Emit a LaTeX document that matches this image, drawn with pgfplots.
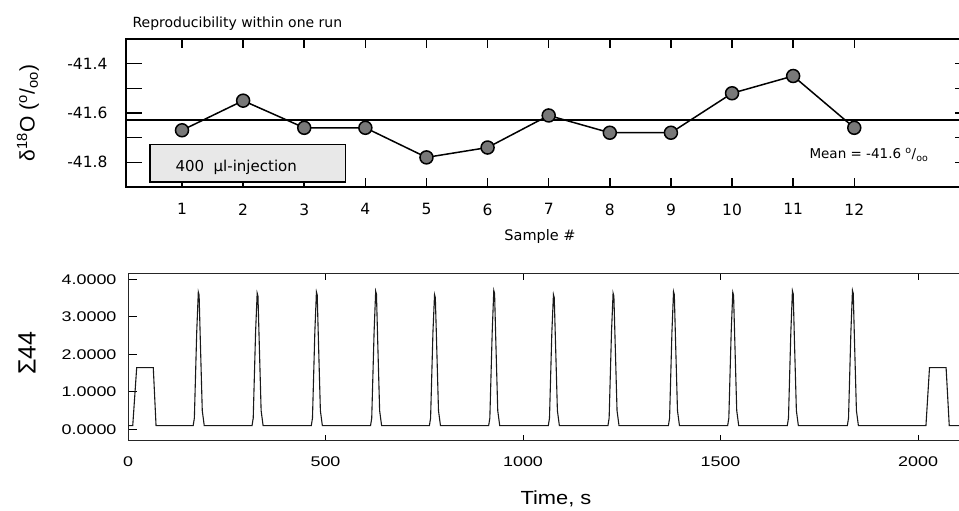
\documentclass[border=0pt]{standalone}
\usepackage{pgfplots}
\pgfplotsset{compat=1.18}
\usepackage{fontspec}
\setmainfont{DejaVu Sans}
\newfontfamily\lib{Liberation Sans}
\newcommand\sx[1]{\scalebox{1.28}[1]{#1}}
\pgfplotstableread{
t s
0 0.1
12 0.1
22 1.645
64 1.645
71 0.1
165 0.1
168 0.3
174 2.6
178 3.66
180 3.58
183 2.4
188 0.5
193 0.1
314 0.1
317 0.3
323 2.6
327 3.63
329 3.55
332 2.4
337 0.5
342 0.1
464 0.1
467 0.3
473 2.6
477 3.66
479 3.58
482 2.4
487 0.5
492 0.1
614 0.1
617 0.3
623 2.6
627 3.68
629 3.6
632 2.4
637 0.5
642 0.1
763 0.1
766 0.3
772 2.6
776 3.59
778 3.51
781 2.4
786 0.5
791 0.1
913 0.1
916 0.3
922 2.6
926 3.70
928 3.62
931 2.4
936 0.5
941 0.1
1064 0.1
1067 0.3
1073 2.6
1077 3.59
1079 3.51
1082 2.4
1087 0.5
1092 0.1
1215 0.1
1218 0.3
1224 2.6
1228 3.63
1230 3.55
1233 2.4
1238 0.5
1243 0.1
1368 0.1
1371 0.3
1377 2.6
1381 3.67
1383 3.59
1386 2.4
1391 0.5
1396 0.1
1518 0.1
1521 0.3
1527 2.6
1531 3.65
1533 3.57
1536 2.4
1541 0.5
1546 0.1
1669 0.1
1672 0.3
1678 2.6
1682 3.69
1684 3.61
1687 2.4
1692 0.5
1697 0.1
1821 0.1
1824 0.3
1830 2.6
1834 3.70
1836 3.62
1839 2.4
1844 0.5
1849 0.1
2020 0.1
2029 1.645
2071 1.645
2079 0.1
2110 0.1
}\signal
\begin{document}
\begin{tikzpicture}[x=1pt,y=1pt]
\begin{axis}[
  at={(126pt,324pt)}, anchor=south west, scale only axis,
  width=845pt, height=148pt,
  xmin=0.0835, xmax=13.91, ymin=-41.9, ymax=-41.3,
  xtick={1,2,3,4,5,6,7,8,9,10,11,12},
  xticklabels={1,2,3,4,5,6,7,8,9,10,11,12},
  ytick={-41.8,-41.7,-41.6,-41.5,-41.4},
  yticklabels={-41.8,,-41.6,,-41.4},
  tick align=inside, xtick pos=both, ytick pos=both,
  axis line style={line width=2pt, black},
  x tick style={line width=1.5pt, black, /pgfplots/major tick length=9pt},
  y tick style={line width=1.5pt, black, /pgfplots/major tick length=16pt},
  xticklabel style={font=\fontsize{15.5}{18}\selectfont, yshift=-13pt},
  yticklabel style={font=\fontsize{15.5}{18}\selectfont, xshift=-15pt},
]
\addplot[black, line width=2pt] coordinates {(0.0835,-41.63) (13.91,-41.63)};
\draw[fill=black!9, line width=1.2pt] (axis cs:0.476,-41.727) rectangle (axis cs:3.67,-41.88);
\addplot[black, line width=1.5pt, mark=*, mark size=6.5pt,
  mark options={fill=black!53, draw=black, line width=1.5pt}] coordinates {
(1,-41.67) (2,-41.55) (3,-41.66) (4,-41.66) (5,-41.78) (6,-41.74)
(7,-41.61) (8,-41.68) (9,-41.68) (10,-41.52) (11,-41.45) (12,-41.66)};
\end{axis}
\begin{axis}[
  at={(128pt,70pt)}, anchor=south west, scale only axis,
  width=833.5pt, height=167pt,
  xmin=0, xmax=2110, ymin=-0.31, ymax=4.14,
  xtick={0,500,1000,1500,2000},
  xticklabels={\sx{0},\sx{500},\sx{1000},\sx{1500},\sx{2000}},
  ytick={0,1,2,3,4},
  yticklabels={\sx{0.0000},\sx{1.0000},\sx{2.0000},\sx{3.0000},\sx{4.0000}},
  tick align=inside, xtick pos=both, ytick pos=left,
  axis line style={line width=1pt, black!85},
  x tick style={line width=1pt, black, /pgfplots/major tick length=6pt},
  y tick style={line width=1pt, black, /pgfplots/major tick length=9pt},
  xticklabel style={font=\lib\fontsize{14}{16}\selectfont, yshift=-12pt},
  yticklabel style={font=\lib\fontsize{14}{16}\selectfont, xshift=-8pt},
]
\addplot[black!90, line width=1.1pt] table[x=t, y=s] {\signal};
\end{axis}
\node[anchor=base west, font=\fontsize{14}{16}\selectfont] at (129,483) {Reproducibility within one run};
\node[rotate=90, font=\lib\fontsize{21}{24}\selectfont] at (28,398) {δ\textsuperscript{18}O (\textsuperscript{o}/\textsubscript{oo})};
\node[anchor=base, font=\fontsize{14.5}{17}\selectfont] at (540,270) {Sample \#};
\node[anchor=base west, font=\fontsize{13.5}{16}\selectfont] at (806,352) {Mean = -41.6 \textsuperscript{o}/\textsubscript{oo}};
\node[anchor=base west, font=\fontsize{15}{18}\selectfont] at (172,339.5) {400\ \ μl-injection};
\node[rotate=90, font=\lib\fontsize{25}{28}\selectfont] at (27,158) {Σ44};
\node[anchor=base, font=\lib\fontsize{19}{22}\selectfont] at (556,6) {\scalebox{1.15}[1]{Time, s}};
\pgfresetboundingbox
\path[use as bounding box] (0,0) rectangle (959,511);
\end{tikzpicture}
\end{document}
